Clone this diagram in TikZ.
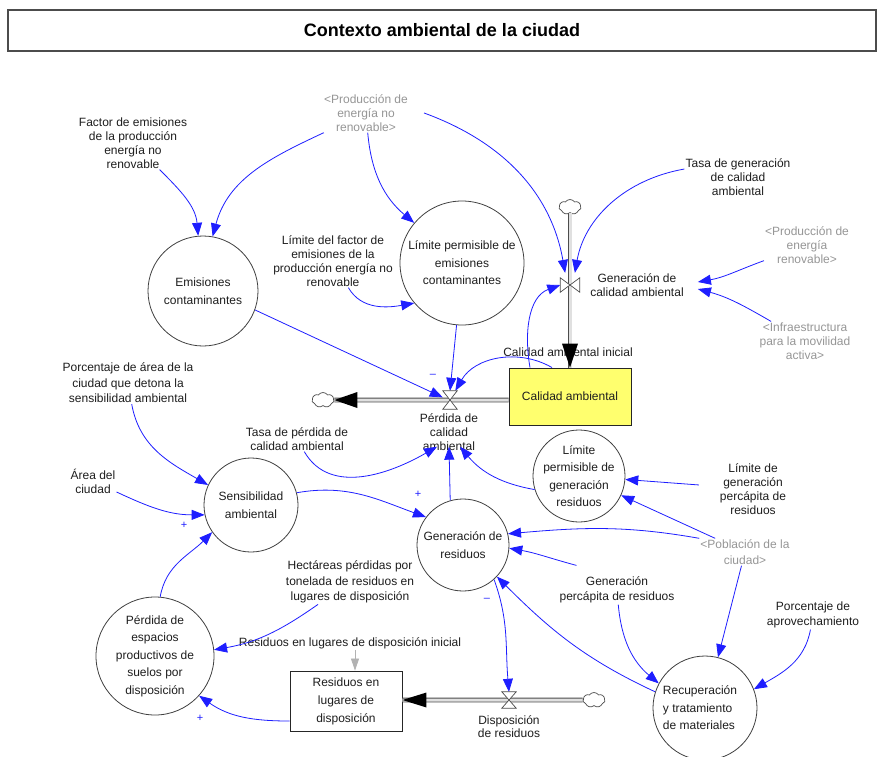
\documentclass[tikz,border=0pt]{standalone}
\usepackage{fontspec}
\setmainfont{Liberation Sans}
\usetikzlibrary{arrows.meta,shapes.symbols}

\definecolor{linkblue}{RGB}{30,30,255}
\definecolor{ghosttext}{RGB}{150,150,150}
\definecolor{stockfill}{RGB}{255,255,110}
\definecolor{ink}{RGB}{30,30,30}

\tikzset{
  lbl/.style={font=\fontsize{12}{14}\selectfont, align=center, inner sep=1pt, text=ink},
  lblwide/.style={lbl, font=\fontsize{12}{15.5}\selectfont},
  ghost/.style={lbl, text=ghosttext},
  intext/.style={lbl, font=\fontsize{12}{17.5}\selectfont, inner sep=0pt},
  aux/.style={circle, draw=black!75, line width=0.8pt, inner sep=0pt},
  stockbox/.style={rectangle, draw=black!85, line width=0.9pt, inner sep=0pt,
    font=\fontsize{12}{18}\selectfont, align=center, text=ink},
  link/.style={draw=linkblue, line width=0.8pt, -{Triangle[length=13pt,width=10pt]}},
  ghostlink/.style={draw=black!30, line width=0.8pt, -{Triangle[length=12pt,width=8pt]}},
  pipe/.style={draw=black!70, line width=0.9pt, double=black!12, double distance=3pt},
  valvebox/.style={rectangle, inner sep=0pt, draw=none},
  valve/.style={draw=black!70, line width=0.7pt, fill=white},
  cloudnode/.style={cloud, cloud puffs=7, cloud puff arc=110, aspect=1.4,
    draw=black!70, line width=0.7pt, fill=white,
    minimum width=22pt, minimum height=15pt, inner sep=0pt},
  pol/.style={font=\fontsize{11}{11}\selectfont, text=linkblue, inner sep=0pt},
  titlebar/.style={draw=black!70, line width=1.1pt, inner sep=0pt,
    minimum width=868pt, minimum height=41pt,
    font=\bfseries\fontsize{18}{21}\selectfont, text=black},
}

\begin{document}
\begin{tikzpicture}[x=1pt,y=-1pt]
\useasboundingbox (0,0) rectangle (878,756);
\fill[white] (0,0) rectangle (878,756);

% title bar
\node[titlebar] (title) at (442,30.5) {Contexto ambiental de la ciudad};

% auxiliary variables (circles) and their texts
\node[aux, minimum size=110pt] (emis) at (203,291) {};
\node[intext] (emisT) at (emis) {Emisiones\\contaminantes};
\node[aux, minimum size=124pt] (limEmis) at (462,263) {};
\node[intext] (limEmisT) at (limEmis) {Límite permisible de\\emisiones\\contaminantes};
\node[aux, minimum size=94pt] (sens) at (251,505) {};
\node[intext] (sensT) at (sens) {Sensibilidad\\ambiental};
\node[aux, minimum size=92pt] (genRes) at (463,545) {};
\node[intext] (genResT) at (genRes) {Generación de\\residuos};
\node[aux, minimum size=92pt] (limRes) at (579,476) {};
\node[intext] (limResT) at (limRes) {Límite\\permisible de\\generación\\residuos};
\node[aux, minimum size=118pt] (perdEsp) at (155,656) {};
\node[intext] (perdEspT) at (perdEsp) {Pérdida de\\espacios\\productivos de\\suelos por\\disposición};
\node[aux, minimum size=104pt] (recup) at (705,708) {};
\node[intext, align=left] (recupT) at ([xshift=-5pt]recup.center) {Recuperación\\y tratamiento\\de materiales};

% free variables
\node[lbl] (fac) at (133,143) {Factor de emisiones\\de la producción\\energía no\\renovable};
\node[ghost] (prodNR) at (366,113) {<Producción de\\energía no\\renovable>};
\node[lbl] (limFac) at (333,261) {Límite del factor de\\emisiones de la\\producción energía no\\renovable};
\node[lbl] (tasaGen) at (738,177) {Tasa de generación\\de calidad\\ambiental};
\node[lbl, inner xsep=14pt] (genCal) at (637,285) {Generación de\\calidad ambiental};
\node[ghost] (prodR) at (807,245) {<Producción de\\energía\\renovable>};
\node[ghost] (infra) at (805,341) {<Infraestructura\\para la movilidad\\activa>};
\node[lbl] (calInit) at (568,352) {Calidad ambiental inicial};
\node[lbl] (perdLbl) at (449,432) {Pérdida de\\calidad\\ambiental};
\node[lbl] (tasaPerd) at (297,439) {Tasa de pérdida de\\calidad ambiental};
\node[lblwide] (pctArea) at (128,383) {Porcentaje de área de la\\ciudad que detona la\\sensibilidad ambiental};
\node[lbl] (areaC) at (93,481) {Área del\\ciudad};
\node[lbl] (limGen) at (753,489) {Límite de\\generación\\percápita de\\residuos};
\node[ghost, font=\fontsize{12}{16}\selectfont] (pob) at (745,552) {<Población de la\\ciudad>};
\node[lblwide] (genPc) at (617,590) {Generación\\percápita de residuos};
\node[lblwide] (pctApr) at (813,615) {Porcentaje de\\aprovechamiento};
\node[lblwide] (hect) at (350,582) {Hectáreas pérdidas por\\tonelada de residuos en\\lugares de disposición};
\node[lbl] (resInit) at (350,643) {Residuos en lugares de disposición inicial};
\node[lbl, font=\fontsize{12}{13}\selectfont] (dispLbl) at (509,727) {Disposición\\de residuos};

% valves and clouds
\node[valvebox, minimum width=19pt, minimum height=14pt] (vGen) at (570,285) {};
\node[valvebox, minimum width=14pt, minimum height=18pt] (vPerd) at (450,400) {};
\node[valvebox, minimum width=14pt, minimum height=16pt] (vDisp) at (509,700) {};

% stocks
\node[stockbox, fill=stockfill, minimum width=122pt, minimum height=57pt] (calAmb) at (570,396.5) {Calidad ambiental};
\node[stockbox, fill=white, minimum width=112pt, minimum height=60pt] (resDisp) at (346,701) {Residuos en\\lugares de\\disposición};

\node[cloudnode] (cTop) at (570,207) {};
\node[cloudnode] (cLeft) at (323,400) {};
\node[cloudnode] (cRight) at (594,700) {};

% information links
\draw[link] (fac) to[out=-45, in=95] (emis.95);
\draw[link] (prodNR) to[out=-155, in=75] (emis.80);
\draw[link] (prodNR) to[out=-85, in=140] (limEmis.140);
\draw[link, shorten >=5pt] ([xshift=15pt]prodNR.east) to[out=-20, in=100] ([xshift=-4pt]vGen.north);
\draw[link] (limFac) to[out=-60, in=190] (limEmis.220);
\draw[link, shorten >=5pt] ([yshift=8pt]tasaGen.west) to[out=-170, in=80] ([xshift=4pt]vGen.north);
\draw[link] (prodR) to[out=-160, in=10] ([yshift=3pt]genCal.east);
\draw[link] (infra) to[out=150, in=-15] ([yshift=-4pt]genCal.east);
\draw[link] ([xshift=-40pt]calAmb.north) to[out=100, in=200] (vGen.west);
\draw[link] ([xshift=-18pt]calAmb.north) to[out=150, in=60] (vPerd.60);
\draw[link] (emis.-20) -- (vPerd.160);
\draw[link] (limEmis.-95) -- (vPerd.north);
\draw[link] (tasaPerd) to[out=-60, in=210] ([xshift=-12pt,yshift=5pt]perdLbl.south);
\draw[link] (genRes.106) -- ([yshift=5pt]perdLbl.south);
\draw[link] (limRes.197) to[out=170, in=-50] ([xshift=11pt,yshift=5pt]perdLbl.south);
\draw[link] (pctArea) to[out=-80, in=150] (sens.155);
\draw[link] (areaC) to[out=-25, in=180] (sens.192);
\draw[link] (perdEsp.85) to[out=80, in=225] (sens.215);
\draw[link] (sens.15) to[out=10, in=160] (genRes.143);
\draw[link, shorten <=20pt] (limGen) -- (limRes);
\draw[link] (pob) -- (limRes);
\draw[link] (pob.north west) to[out=170, in=5] (genRes.14);
\draw[link] ([xshift=18pt,yshift=10pt]genPc.north west) to[out=165, in=-10] (genRes.-4);
\draw[link] (genRes.-48) to[out=-70, in=95] (vDisp.north);
\draw[link] (recup.162) to[out=155, in=-45] (genRes.-43);
\draw[link] (genPc) to[out=-85, in=140] (recup.152);
\draw[link] (pob) -- (recup);
\draw[link] (pctApr) to[out=-100, in=30] (recup.21);
\draw[link] (hect) to[out=-145, in=10] (perdEsp.6);
\draw[link] ([yshift=-20pt]resDisp.west) to[out=180, in=-35] (perdEsp.-42);
\draw[ghostlink] ([xshift=5pt]resInit.south) -- ([xshift=9pt]resDisp.north);

% flow pipes with their heads
\draw[pipe] (cTop.south) -- (calAmb.north);
\fill[black] (calAmb.north) -- ++(-8,-24) -- ++(16,0) -- cycle;
\draw[pipe] (calAmb.west |- vPerd) -- (cLeft.east);
\fill[black] (cLeft.east) -- ++(23,-8) -- ++(0,16) -- cycle;
\draw[pipe] (cRight.west) -- (resDisp.east |- vDisp);
\fill[black] (resDisp.east |- vDisp) -- ++(24,-7.5) -- ++(0,15) -- cycle;

% valve symbols
\draw[valve] (vGen.north west) -- (vGen.south west) -- (vGen.center) -- cycle
             (vGen.north east) -- (vGen.south east) -- (vGen.center) -- cycle;
\draw[valve] (vPerd.north west) -- (vPerd.north east) -- (vPerd.center) -- cycle
             (vPerd.south west) -- (vPerd.south east) -- (vPerd.center) -- cycle;
\draw[valve] (vDisp.north west) -- (vDisp.north east) -- (vDisp.center) -- cycle
             (vDisp.south west) -- (vDisp.south east) -- (vDisp.center) -- cycle;

% link polarities
\node[pol] (polA) at (433,376) {–};
\node[pol] (polB) at (184,525) {+};
\node[pol] (polC) at (418,494) {+};
\node[pol] (polD) at (487,600) {–};
\node[pol] (polE) at (200,718) {+};
\end{tikzpicture}
\end{document}
